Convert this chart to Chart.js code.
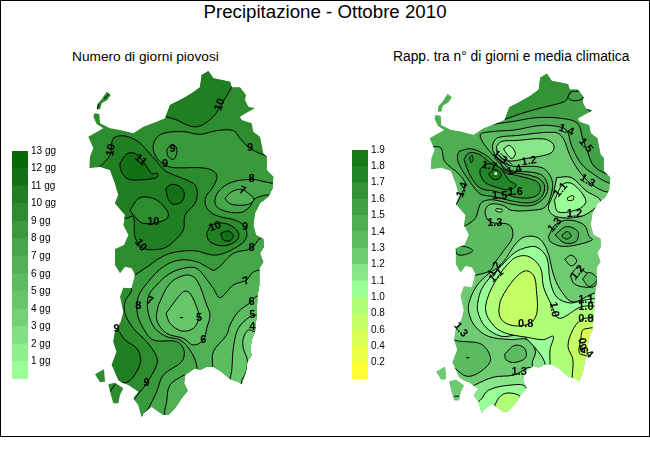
<!DOCTYPE html>
<html>
<head>
<meta charset="utf-8">
<title>Precipitazione - Ottobre 2010</title>
<script src="https://cdn.jsdelivr.net/npm/chart.js@4/dist/chart.umd.js"></script>
<style>
body { margin: 0; background: #fff; font-family: "Liberation Sans", Arial, sans-serif; color: #000; }
#frame { position: absolute; left: 0; top: 0; width: 648px; height: 435px; border: 1px solid #000; }
canvas { position: absolute; }
.title { position: absolute; white-space: nowrap; text-align: center; }
#mainTitle { left: 0; width: 650px; top: 1px; font-size: 18.7px; line-height: 22px; }
#leftTitle { left: 72px; top: 49px; font-size: 13.7px; line-height: 16px; }
#rightTitle { left: 393px; top: 49px; font-size: 13.8px; line-height: 16px; }
</style>
</head>
<body>
<div id="frame"></div>
<div class="title" id="mainTitle">Precipitazione - Ottobre 2010</div>
<div class="title" id="leftTitle">Numero di giorni piovosi</div>
<div class="title" id="rightTitle">Rapp. tra n° di giorni e media climatica</div>
<canvas id="leftMap" width="325" height="450" style="left:0;top:0"></canvas>
<canvas id="rightMap" width="325" height="450" style="left:325px;top:0"></canvas>
<canvas id="leftKey" width="56" height="246" style="left:12px;top:142px"></canvas>
<canvas id="rightKey" width="56" height="247" style="left:352px;top:141px"></canvas>
<script>
// colour key, bottom band first
var leftKeyLabels = ["1 gg","2 gg","3 gg","4 gg","5 gg","6 gg","7 gg","8 gg","9 gg","10 gg","11 gg","12 gg","13 gg"];
var leftKeyColors = ["#99ff99","#8cf08c","#80e084","#72d076","#66c66a","#5cbc60","#50b055","#45a64a","#389a3b","#2c8c2e","#1f7f22","#137017","#066b06"];
var rightKeyLabels = ["0.2","0.4","0.6","0.8","1.0","1.1","1.2","1.3","1.4","1.5","1.6","1.7","1.8","1.9"];
var rightKeyColors = ["#ffff33","#ecff44","#d8ff55","#c4ff66","#afff77","#99ff99","#86e688","#6ecb72","#5cbb61","#4fae54","#41a146","#329436","#228528","#157915"];

// island shape, shared by both maps (map units, y going south)
var sardegna = [[625,213],[640,235],[665,240],[690,245],[695,262],[720,262],[738,285],[735,300],[745,320],[765,325],[745,335],[720,350],[725,360],[755,370],[760,395],[780,410],[790,460],[800,470],[800,510],[820,530],[818,565],[805,590],[780,610],[765,640],[760,675],[768,705],[790,717],[792,740],[780,760],[790,787],[778,805],[778,855],[772,890],[770,945],[765,995],[755,1020],[750,1050],[755,1065],[742,1085],[738,1115],[725,1153],[715,1145],[690,1137],[665,1115],[640,1100],[620,1100],[600,1110],[585,1105],[555,1125],[552,1150],[563,1172],[545,1195],[525,1225],[505,1245],[490,1245],[455,1220],[430,1240],[425,1250],[415,1215],[400,1195],[415,1175],[385,1155],[370,1150],[355,1140],[340,1105],[335,1095],[350,1055],[340,1025],[345,995],[362,965],[370,935],[360,890],[370,863],[395,865],[405,825],[395,805],[375,800],[360,820],[345,795],[345,747],[372,735],[385,705],[370,675],[372,665],[375,645],[345,610],[355,585],[345,550],[330,510],[300,500],[268,505],[270,470],[280,445],[265,410],[310,385],[290,372],[280,350],[283,340],[298,342],[300,370],[330,385],[360,390],[400,400],[430,380],[470,365],[495,355],[510,315],[550,295],[575,280],[600,262],[605,225]];
var asinara = [[290,328],[292,312],[305,298],[320,275],[332,285],[322,300],[305,310],[300,328]];
var sanPietro = [[285,1123],[312,1108],[315,1145],[300,1147]];
var santAntioco = [[325,1153],[345,1148],[370,1165],[360,1185],[355,1210],[340,1210],[330,1175]];
var coastlines = [sardegna, asinara, sanPietro, santAntioco];
var seaFrame = [[-40,100],[950,100],[950,1340],[-40,1340]];

// giorni piovosi: filled contours, painted in this order
var below9 = [[850,490],[798,468],[750,445],[720,415],[700,392],[650,392],[600,403],[550,395],[490,400],[465,420],[460,450],[475,480],[495,495],[520,503],[620,505],[650,525],[640,560],[618,590],[618,620],[645,645],[710,662],[735,682],[740,710],[720,735],[650,765],[580,752],[510,760],[470,780],[450,795],[405,825],[385,845],[395,870],[375,905],[375,940],[400,985],[440,1025],[470,1070],[470,1095],[440,1150],[405,1195],[380,1240],[500,1320],[900,1300],[900,490]];
var north10 = [[497,350],[530,360],[570,378],[600,378],[640,350],[660,320],[695,260],[720,200],[480,180],[470,300]];
var west10 = [[300,500],[330,465],[340,415],[375,408],[415,425],[440,450],[475,490],[500,515],[580,550],[592,575],[585,610],[555,645],[550,690],[520,725],[490,745],[430,745],[405,710],[400,650],[375,655],[330,640],[300,560],[260,520]];
var oval10 = [[390,630],[420,593],[470,600],[505,640],[495,660],[430,670],[400,645]];
var west11 = [[360,490],[380,462],[405,460],[430,485],[455,520],[472,520],[470,533],[410,540],[380,535],[362,510]];
var centre11 = [[497,565],[515,553],[540,560],[553,580],[545,605],[520,613],[505,598]];
var small9 = [[500,450],[510,438],[528,440],[530,460],[520,478],[505,470]];
var east10 = [[620,700],[635,675],[675,670],[710,690],[715,715],[685,735],[650,735],[625,720]];
var east11 = [[662,700],[685,693],[700,708],[690,722],[670,720]];
var northEast8 = [[870,555],[817,550],[780,542],[755,538],[695,547],[655,575],[645,610],[665,630],[720,638],[750,620],[762,598],[800,585],[870,585]];
var northEast7 = [[675,595],[695,575],[725,568],[745,580],[762,598],[745,613],[705,615],[685,608]];
var south8 = [[830,700],[780,715],[755,745],[700,760],[645,810],[620,800],[590,785],[540,780],[490,800],[445,845],[415,890],[412,940],[430,985],[460,1020],[530,1025],[552,1050],[545,1085],[490,1125],[470,1175],[445,1225],[425,1250],[420,1310],[900,1310],[900,700]];
var south7 = [[850,810],[778,810],[755,820],[740,840],[700,855],[660,893],[640,865],[610,825],[590,805],[560,803],[510,820],[470,855],[445,890],[445,940],[465,985],[500,1010],[540,1020],[570,1050],[590,1095],[590,1140],[600,1180],[900,1180],[900,810]];
var southWest7 = [[552,1125],[510,1155],[500,1205],[497,1250],[560,1270],[620,1170]];
var south6 = [[850,885],[772,888],[755,905],[715,935],[690,975],[680,1005],[640,1055],[638,1100],[638,1160],[900,1180],[900,885]];
var centre6 = [[475,915],[510,850],[560,825],[590,840],[620,915],[630,945],[620,985],[610,1020],[580,1035],[550,1015],[500,1000],[470,960]];
var centre5 = [[498,940],[550,875],[570,880],[595,935],[597,955],[580,985],[545,993],[510,970]];
var east5 = [[850,945],[770,945],[750,950],[715,985],[700,1045],[695,1115],[690,1140],[700,1180],[900,1180],[900,945]];
var east4 = [[850,995],[765,995],[745,990],[730,1015],[730,1045],[742,1080],[738,1115],[725,1150],[760,1180],[900,1180],[900,995]];
var west10South = [[310,980],[350,988],[375,1020],[410,1045],[422,1080],[410,1115],[385,1145],[360,1145],[335,1115],[320,1060]];
var leftContours = [below9,north10,west10,oval10,west11,centre11,small9,east10,east11,northEast8,northEast7,south8,south7,southWest7,south6,centre6,centre5,east5,east4,west10South];
var leftBands =    [8,10,10,9,11,11,8,10,11,7,6,7,6,6,5,5,4,4,3,10];
var leftOpenLines = [[[330,1175],[345,1153]],[[292,328],[297,312]],[[312,296],[330,280]]];
var leftLabelText = ["10","9","10","9","11","9","8","7","10","10","10","9","8","7","7","8","6","5","-","6","5","4","9","9"];
var leftLabelX = [660,750,333,518,422,495,755,727,460,422,645,735,755,738,450,415,610,597,545,755,757,757,350,440];
var leftLabelY = [314,443,450,447,480,492,538,572,665,735,680,682,745,843,903,918,1020,955,952,905,945,980,988,1150];
var leftLabelAngle = [-70,0,-80,0,40,0,0,20,0,50,-20,0,0,-20,20,0,0,0,0,0,0,0,0,0];

// rapporto: filled contours, painted in this order
var over14 = [[275,435],[300,440],[310,480],[355,520],[375,550],[365,575],[348,610],[330,640],[350,690],[370,680],[405,655],[415,625],[425,605],[460,598],[520,612],[580,615],[618,590],[628,555],[605,520],[495,505],[480,480],[445,445],[420,400],[455,390],[525,385],[595,372],[645,372],[685,385],[700,430],[725,480],[755,510],[820,548],[880,548],[880,180],[200,180],[240,430]];
var over15 = [[455,368],[525,358],[595,347],[675,350],[720,365],[735,410],[750,450],[770,495],[820,522],[880,522],[880,180],[440,180],[440,340]];
var over16 = [[475,360],[545,335],[605,318],[680,298],[690,285],[700,268],[737,268],[745,200],[555,180],[455,300]];
var capoTesta = [[700,268],[737,268],[733,290],[705,295],[690,285]];
var under13 = [[400,830],[450,815],[465,790],[495,750],[520,710],[510,675],[450,665],[435,635],[450,612],[490,615],[515,630],[580,630],[620,620],[640,575],[640,535],[610,500],[520,495],[485,480],[460,450],[460,425],[475,408],[530,402],[650,392],[675,410],[695,460],[720,505],[750,540],[785,565],[815,575],[880,580],[880,1310],[250,1310],[250,830]];
var speck13 = [[470,625],[488,628],[485,635],[468,632]];
var core15 = [[355,450],[390,442],[435,460],[470,490],[495,508],[595,530],[618,555],[608,590],[575,607],[520,602],[460,588],[420,580],[390,545],[355,490],[350,465]];
var core16 = [[370,475],[385,455],[415,458],[445,480],[485,510],[590,540],[605,560],[598,582],[565,593],[520,588],[465,572],[420,562],[390,525]];
var lobeOval = [[388,470],[395,462],[398,475],[392,485]];
var core18 = [[420,505],[435,490],[460,490],[485,505],[510,540],[530,553],[510,568],[465,558],[435,545],[420,520]];
var core19 = [[445,520],[465,505],[485,520],[475,535],[460,535]];
var coreDot = [[468,518]];
var nuraUnder12 = [[470,435],[485,420],[530,417],[615,412],[645,428],[642,452],[605,465],[560,472],[532,478],[500,478],[475,460]];
var nuraUnder11 = [[492,442],[510,432],[528,455],[518,472],[502,458]];
var eastUnder12 = [[655,530],[700,530],[745,570],[790,600],[765,630],[725,650],[655,650],[630,625],[645,580]];
var eastUnder11 = [[648,600],[675,550],[705,550],[745,600],[725,625],[660,635]];
var eastUnder10 = [[688,592],[705,585],[707,597],[690,600]];
var ringOuter = [[630,710],[650,675],[690,660],[740,675],[755,710],[765,720],[720,735],[670,740],[635,725]];
var ringMiddle = [[650,705],[685,680],[720,695],[715,725],[680,730]];
var ringInner = [[672,705],[688,695],[700,708],[688,718],[673,712]];
var under12 = [[880,880],[773,883],[705,910],[665,870],[645,825],[625,750],[595,713],[545,717],[485,795],[445,825],[410,860],[385,915],[387,950],[405,985],[445,1015],[515,1025],[565,1025],[590,1060],[580,1100],[600,1150],[880,1200]];
var under11 = [[880,905],[770,900],[730,907],[695,913],[655,895],[635,845],[625,775],[595,743],[565,743],[525,760],[485,800],[455,830],[425,870],[413,910],[413,940],[435,985],[485,1015],[545,1010],[565,1025],[605,1070],[620,1100],[625,1150],[880,1200]];
var under10 = [[880,923],[770,923],[730,925],[663,960],[640,920],[615,865],[605,805],[565,770],[520,780],[465,850],[437,920],[445,960],[485,1000],[575,1020],[615,1025],[645,1015],[635,1055],[635,1100],[635,1170],[880,1200]];
var under08 = [[477,937],[485,900],[525,840],[560,815],[585,830],[593,875],[595,940],[580,970],[545,983],[505,978],[483,960]];
var eastUnder08 = [[880,957],[765,957],[730,965],[705,995],[690,1045],[705,1085],[703,1140],[703,1200],[880,1200]];
var eastUnder06 = [[880,985],[740,993],[730,1020],[730,1070],[880,1070]];
var westOver13 = [[360,1030],[425,1040],[452,1085],[425,1120],[380,1137],[340,1110],[325,1090],[325,1030]];
var southOver13 = [[495,1070],[525,1043],[555,1050],[560,1080],[525,1095],[500,1087]];
var eastOver12 = [[697,830],[720,805],[745,820],[775,835],[775,860],[745,865],[710,855]];
var eastOver13 = [[735,840],[755,820],[780,840],[755,863]];
var smallOver12 = [[680,780],[700,767],[717,785],[700,800]];
var lensOver14 = [[343,743],[370,740],[397,753],[375,765],[350,765]];
var south12 = [[385,1172],[400,1165],[460,1140],[525,1133],[575,1110],[590,1150],[560,1290],[400,1290],[375,1220]];
var south11 = [[425,1205],[445,1180],[505,1165],[560,1170],[600,1290],[420,1290],[405,1230]];
var south10 = [[465,1225],[480,1200],[505,1188],[545,1200],[555,1245],[515,1295],[470,1290]];
var rightContours = [over14,over15,over16,capoTesta,under13,speck13,core15,core16,lobeOval,core18,core19,nuraUnder12,nuraUnder11,eastUnder12,eastUnder11,eastUnder10,ringOuter,ringMiddle,ringInner,under12,eastOver12,eastOver13,smallOver12,under11,under10,under08,eastUnder08,eastUnder06,westOver13,southOver13,lensOver14,south12,south11,south10];
var rightBands =    [9,10,11,10,7,5,10,11,11,12,13,6,5,6,5,4,8,9,10,6,7,8,7,5,4,3,3,2,8,8,9,6,5,4];
var rightOpenLines = [[[745,318],[763,330]],[[340,1198],[355,1198]],[[470,465],[505,500]],[[476,460],[511,495]],[[482,455],[517,490]],[[464,470],[499,505]]];
var rightLabelText = ["1.4","1.5","1.3","1.2","1.3","1.7","1.4","1.6","1.5","1.4","1.1","1.2","1.3","1.3","1.2","1.1","1.0","0.8","0.8","1.0","1.3","1.3","1.2","1.1","0.6","0.4","-"];
var rightLabelX = [685,745,750,570,480,448,525,528,480,365,668,710,465,650,720,745,745,745,560,647,540,360,465,470,735,745,382];
var rightLabelY = [385,432,540,480,468,495,508,575,585,568,568,640,670,675,820,903,925,963,977,933,1125,995,810,830,1043,1060,1077];
var rightLabelAngle = [20,50,30,-10,40,10,-15,0,0,-70,-50,0,0,-50,-50,0,0,0,0,80,0,50,-60,-40,80,45,0];

var islandClip = {
    id: "islandClip",
    beforeDatasetsDraw: function(chart) {
        var ctx = chart.ctx, sx = chart.scales.x, sy = chart.scales.y;
        ctx.save();
        ctx.beginPath();
        coastlines.forEach(function(shape) {
            shape.forEach(function(p, i) {
                if (i == 0) ctx.moveTo(sx.getPixelForValue(p[0]), sy.getPixelForValue(p[1]));
                else ctx.lineTo(sx.getPixelForValue(p[0]), sy.getPixelForValue(p[1]));
            });
            ctx.closePath();
        });
        ctx.clip();
    },
    afterDatasetsDraw: function(chart) {
        chart.ctx.restore();
    }
};

var contourLabels = {
    id: "contourLabels",
    afterDraw: function(chart, args, opts) {
        var ctx = chart.ctx;
        ctx.save();
        ctx.fillStyle = "#000";
        ctx.font = "bold 11px 'Liberation Sans', Arial, sans-serif";
        ctx.textAlign = "center";
        ctx.textBaseline = "middle";
        opts.text.forEach(function(t, i) {
            ctx.save();
            ctx.translate(chart.scales.x.getPixelForValue(opts.x[i]), chart.scales.y.getPixelForValue(opts.y[i]));
            ctx.rotate(opts.angle[i] * Math.PI / 180);
            ctx.fillText(t, 0, 0);
            ctx.restore();
        });
        ctx.restore();
    }
};

function toPoints(shape, close) {
    var pts = shape.map(function(p) { return {x: p[0], y: p[1]}; });
    if (close) pts.push({x: shape[0][0], y: shape[0][1]});
    return pts;
}

function drawMap(id, xMin, xMax, baseColor, contours, bands, colors, openLines, labels, dots) {
    var datasets = [];
    datasets.push({data: toPoints(seaFrame, true), showLine: true, fill: "shape", backgroundColor: baseColor, borderWidth: 0, pointRadius: 0, order: 1000});
    contours.forEach(function(c, i) {
        datasets.push({
            data: toPoints(c, true),
            showLine: true,
            fill: "shape",
            backgroundColor: colors[bands[i]],
            borderColor: "#000",
            borderWidth: 1,
            pointRadius: 0,
            tension: 0.35,
            order: 900 - i
        });
    });
    openLines.forEach(function(l) {
        datasets.push({data: toPoints(l, false), showLine: true, borderColor: "#000", borderWidth: 1, pointRadius: 0, order: 2});
    });
    if (dots) datasets.push({data: toPoints(dots, false), pointRadius: 1.5, pointBackgroundColor: "#fff", pointBorderWidth: 0, order: 1});
    new Chart(document.getElementById(id), {
        type: "scatter",
        data: {datasets: datasets},
        plugins: [islandClip, contourLabels],
        options: {
            responsive: false,
            animation: false,
            layout: {padding: 0},
            scales: {
                x: {type: "linear", display: false, min: xMin, max: xMax},
                y: {type: "linear", display: false, min: 0, max: 1350, reverse: true}
            },
            plugins: {legend: {display: false}, tooltip: {enabled: false}, contourLabels: labels}
        }
    });
}

function drawKey(id, labels, colors) {
    var datasets = colors.map(function(c) {
        return {data: [1], backgroundColor: c, barPercentage: 1, categoryPercentage: 1, borderWidth: 0};
    });
    new Chart(document.getElementById(id), {
        type: "bar",
        data: {labels: [""], datasets: datasets},
        options: {
            responsive: false,
            animation: false,
            layout: {padding: 0},
            scales: {
                x: {display: false, stacked: true},
                y: {
                    stacked: true,
                    position: "right",
                    min: 0,
                    max: labels.length,
                    grid: {display: false, drawTicks: false},
                    border: {display: false},
                    afterFit: function(scale) { scale.width = 40; },
                    ticks: {
                        stepSize: 1,
                        autoSkip: false,
                        padding: 3,
                        color: "#000",
                        font: {size: 10, family: "'Liberation Sans', Arial, sans-serif"},
                        callback: function(v) { return labels[v - 1] || ""; }
                    }
                }
            },
            plugins: {legend: {display: false}, tooltip: {enabled: false}}
        }
    });
}

drawMap("leftMap", 0, 975, leftKeyColors[9], leftContours, leftBands, leftKeyColors, leftOpenLines,
    {text: leftLabelText, x: leftLabelX, y: leftLabelY, angle: leftLabelAngle});
drawMap("rightMap", -45, 930, rightKeyColors[8], rightContours, rightBands, rightKeyColors, rightOpenLines,
    {text: rightLabelText, x: rightLabelX, y: rightLabelY, angle: rightLabelAngle}, coreDot);
drawKey("leftKey", leftKeyLabels, leftKeyColors);
drawKey("rightKey", rightKeyLabels, rightKeyColors);
</script>
</body>
</html>
